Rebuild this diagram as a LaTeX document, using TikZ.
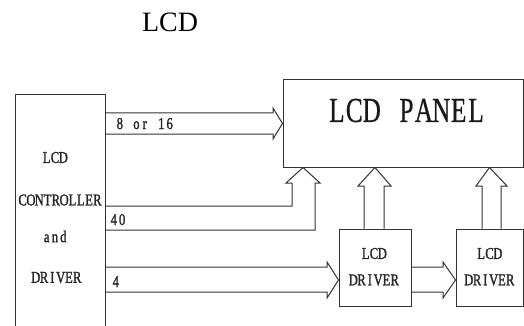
\documentclass[tikz,border=0pt]{standalone}
\usepackage{fontspec}
\setmainfont{Liberation Serif}
\newfontfamily\smallfnt[FakeStretch=0.76,FakeBold=1.5]{Liberation Serif}
\newfontfamily\bigfnt[FakeStretch=0.72,FakeBold=0.6]{Liberation Serif}
\usetikzlibrary{calc}
\newlength\monowd
\makeatletter
\def\mono@loop#1{\ifx#1\relax\else\makebox[\monowd]{#1}\expandafter\mono@loop\fi}
\newcommand\monotext[2]{\setlength\monowd{#1}\mono@loop#2\relax}
\makeatother
\newcommand\mono[1]{\monotext{8.3pt}{#1}}
\definecolor{linec}{gray}{0.2}
\tikzset{
  box/.style={draw=linec, line width=1pt, inner sep=0pt},
  lbl/.style={font=\fontsize{16.5}{16.5}\smallfnt\selectfont, inner sep=0pt, text=black!85},
  ptxt/.style={font=\fontsize{35}{35}\bigfnt\selectfont, inner sep=0pt, text=black!90},
  bus/.style={draw=linec, line width=1pt, line join=miter},
}
\begin{document}
\begin{tikzpicture}[x=1pt,y=-1pt]
\useasboundingbox (0,0) rectangle (524,326);
\clip (0,0) rectangle (524,326);
% title
\node[font=\fontsize{28}{28}\selectfont, inner sep=0pt] (title) at (170,22) {LCD};
% boxes
\node[box, minimum width=90pt, minimum height=250pt] (ctrl) at (60,220) {};
\node[box, minimum width=240pt, minimum height=87pt] (panel) at (403,123.5) {};
\node[box, minimum width=72pt, minimum height=77pt] (drv1) at (375,267.5) {};
\node[box, minimum width=67pt, minimum height=77pt] (drv2) at (489.5,267.5) {};
% texts
\node[ptxt] (ptitle) at (406.5,110.5) {\monotext{17.4pt}{LCD~PANEL}};
\node[lbl] (c1) at (55,157.5) {\mono{LCD}};
\node[lbl] (c2) at (60,200) {\mono{CONTROLLER}};
\node[lbl] (c3) at (55,236.5) {\mono{and}};
\node[lbl] (c4) at (56.5,277.5) {\mono{DRIVER}};
\node[lbl] (d1a) at (374,253.5) {\mono{LCD}};
\node[lbl] (d1b) at (374,280) {\mono{DRIVER}};
\node[lbl] (d2a) at (489.5,253.5) {\mono{LCD}};
\node[lbl] (d2b) at (489.5,280) {\mono{DRIVER}};
\node[lbl, anchor=base west] (l1) at (115.5,129) {\mono{8~or~16}};
\node[lbl, anchor=base west] (l2) at (109.5,225) {\mono{40}};
\node[lbl, anchor=base west] (l3) at (111.5,287) {\mono{4}};
% buses
\draw[bus] (ctrl.east |- 0,113) -- (273,113) -- (273,108) -- (panel.west) -- (273,139) -- (273,134) -- (ctrl.east |- 0,134);
\draw[bus] (ctrl.east |- 0,206) -- (292,206) -- (292,183) -- (286,183) -- (panel.south -| 303,0) -- (320,183) -- (315,183) -- (315,230) -- (ctrl.east |- 0,230);
\draw[bus] (ctrl.east |- 0,267) -- (327,267) -- (327,262) -- (drv1.west |- 0,280) -- (327,298) -- (327,292) -- (ctrl.east |- 0,292);
\draw[bus] (drv1.north -| 364,0) -- (364,186) -- (358,186) -- (drv1.north |- panel.south) -- (391,186) -- (384,186) -- (drv1.north -| 384,0);
\draw[bus] (drv1.east |- 0,267) -- (443,267) -- (443,262) -- (drv2.west |- 0,280) -- (443,298) -- (443,292) -- (drv1.east |- 0,292);
\draw[bus] (drv2.north -| 482,0) -- (482,186) -- (476,186) -- (drv2.north |- panel.south) -- (507,186) -- (501,186) -- (drv2.north -| 501,0);
\end{tikzpicture}
\end{document}
